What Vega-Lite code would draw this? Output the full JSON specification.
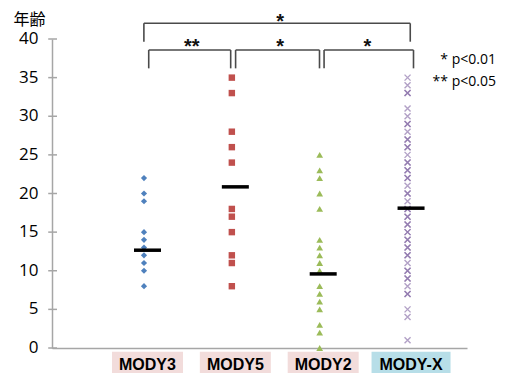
{
  "$schema": "https://vega.github.io/schema/vega-lite/v6.json",
  "width": 415,
  "height": 309,
  "autosize": {"type": "none"},
  "padding": {"left": 52, "top": 39, "right": 38, "bottom": 25},
  "background": "white",
  "config": {"view": {"stroke": null}},
  "datasets": {
    "pts": [
      {"group": "MODY3", "pos": 1, "age": 22}, {"group": "MODY3", "pos": 1, "age": 20}, {"group": "MODY3", "pos": 1, "age": 19},
      {"group": "MODY3", "pos": 1, "age": 15}, {"group": "MODY3", "pos": 1, "age": 14}, {"group": "MODY3", "pos": 1, "age": 13},
      {"group": "MODY3", "pos": 1, "age": 12}, {"group": "MODY3", "pos": 1, "age": 11}, {"group": "MODY3", "pos": 1, "age": 10},
      {"group": "MODY3", "pos": 1, "age": 8},
      {"group": "MODY5", "pos": 2, "age": 35}, {"group": "MODY5", "pos": 2, "age": 33}, {"group": "MODY5", "pos": 2, "age": 28},
      {"group": "MODY5", "pos": 2, "age": 26}, {"group": "MODY5", "pos": 2, "age": 24}, {"group": "MODY5", "pos": 2, "age": 18},
      {"group": "MODY5", "pos": 2, "age": 17}, {"group": "MODY5", "pos": 2, "age": 15}, {"group": "MODY5", "pos": 2, "age": 12},
      {"group": "MODY5", "pos": 2, "age": 11}, {"group": "MODY5", "pos": 2, "age": 8},
      {"group": "MODY2", "pos": 3, "age": 25}, {"group": "MODY2", "pos": 3, "age": 23}, {"group": "MODY2", "pos": 3, "age": 22},
      {"group": "MODY2", "pos": 3, "age": 20}, {"group": "MODY2", "pos": 3, "age": 18}, {"group": "MODY2", "pos": 3, "age": 14},
      {"group": "MODY2", "pos": 3, "age": 13}, {"group": "MODY2", "pos": 3, "age": 12}, {"group": "MODY2", "pos": 3, "age": 11},
      {"group": "MODY2", "pos": 3, "age": 10}, {"group": "MODY2", "pos": 3, "age": 8}, {"group": "MODY2", "pos": 3, "age": 7},
      {"group": "MODY2", "pos": 3, "age": 6}, {"group": "MODY2", "pos": 3, "age": 5}, {"group": "MODY2", "pos": 3, "age": 3},
      {"group": "MODY2", "pos": 3, "age": 2}, {"group": "MODY2", "pos": 3, "age": 0},
      {"group": "MODY-X", "pos": 4, "age": 35}, {"group": "MODY-X", "pos": 4, "age": 34},
      {"group": "MODY-X", "pos": 4, "age": 33}, {"group": "MODY-X", "pos": 4, "age": 33},
      {"group": "MODY-X", "pos": 4, "age": 31}, {"group": "MODY-X", "pos": 4, "age": 30},
      {"group": "MODY-X", "pos": 4, "age": 29}, {"group": "MODY-X", "pos": 4, "age": 29},
      {"group": "MODY-X", "pos": 4, "age": 28},
      {"group": "MODY-X", "pos": 4, "age": 27}, {"group": "MODY-X", "pos": 4, "age": 27},
      {"group": "MODY-X", "pos": 4, "age": 26}, {"group": "MODY-X", "pos": 4, "age": 26},
      {"group": "MODY-X", "pos": 4, "age": 25},
      {"group": "MODY-X", "pos": 4, "age": 24}, {"group": "MODY-X", "pos": 4, "age": 24},
      {"group": "MODY-X", "pos": 4, "age": 23}, {"group": "MODY-X", "pos": 4, "age": 23},
      {"group": "MODY-X", "pos": 4, "age": 22}, {"group": "MODY-X", "pos": 4, "age": 22},
      {"group": "MODY-X", "pos": 4, "age": 21},
      {"group": "MODY-X", "pos": 4, "age": 20}, {"group": "MODY-X", "pos": 4, "age": 20},
      {"group": "MODY-X", "pos": 4, "age": 19},
      {"group": "MODY-X", "pos": 4, "age": 18}, {"group": "MODY-X", "pos": 4, "age": 18},
      {"group": "MODY-X", "pos": 4, "age": 17}, {"group": "MODY-X", "pos": 4, "age": 17},
      {"group": "MODY-X", "pos": 4, "age": 16}, {"group": "MODY-X", "pos": 4, "age": 16},
      {"group": "MODY-X", "pos": 4, "age": 15}, {"group": "MODY-X", "pos": 4, "age": 15},
      {"group": "MODY-X", "pos": 4, "age": 14}, {"group": "MODY-X", "pos": 4, "age": 14},
      {"group": "MODY-X", "pos": 4, "age": 13}, {"group": "MODY-X", "pos": 4, "age": 13},
      {"group": "MODY-X", "pos": 4, "age": 12}, {"group": "MODY-X", "pos": 4, "age": 12},
      {"group": "MODY-X", "pos": 4, "age": 11},
      {"group": "MODY-X", "pos": 4, "age": 10}, {"group": "MODY-X", "pos": 4, "age": 10},
      {"group": "MODY-X", "pos": 4, "age": 9}, {"group": "MODY-X", "pos": 4, "age": 9},
      {"group": "MODY-X", "pos": 4, "age": 8},
      {"group": "MODY-X", "pos": 4, "age": 7}, {"group": "MODY-X", "pos": 4, "age": 7},
      {"group": "MODY-X", "pos": 4, "age": 5}, {"group": "MODY-X", "pos": 4, "age": 4},
      {"group": "MODY-X", "pos": 4, "age": 1}
    ],
    "means": [
      {"group": "MODY3", "pos": 1, "value": 12.66},
      {"group": "MODY5", "pos": 2, "value": 20.86},
      {"group": "MODY2", "pos": 3, "value": 9.59},
      {"group": "MODY-X", "pos": 4, "value": 18.1}
    ],
    "groups": [
      {"group": "MODY3", "pos": 1},
      {"group": "MODY5", "pos": 2},
      {"group": "MODY2", "pos": 3},
      {"group": "MODY-X", "pos": 4}
    ],
    "yticks": [{"v": 0}, {"v": 5}, {"v": 10}, {"v": 15}, {"v": 20}, {"v": 25}, {"v": 30}, {"v": 35}, {"v": 40}],
    "brackets": [
      {"from": 0.959, "to": 3.991, "top": 42.03, "bottom": 39.65, "label": "*", "mid": 2.511, "ly": 41.39},
      {"from": 1.014, "to": 1.947, "top": 38.57, "bottom": 36.2, "label": "**", "mid": 1.503, "ly": 38.24},
      {"from": 2.003, "to": 2.958, "top": 38.57, "bottom": 36.2, "label": "*", "mid": 2.511, "ly": 38.24},
      {"from": 3.01, "to": 4.028, "top": 38.57, "bottom": 36.2, "label": "*", "mid": 3.503, "ly": 38.24}
    ],
    "notes": [
      {"text": "* p<0.01", "x": 4.966, "y": 37.28},
      {"text": "** p<0.05", "x": 4.966, "y": 34.47}
    ]
  },
  "layer": [
    {
      "data": {"name": "groups"},
      "mark": {"type": "bar", "stroke": null},
      "encoding": {
        "x": {"field": "pos", "type": "quantitative", "scale": {"domain": [-0.03, 4.58], "nice": false, "zero": false}},
        "y": {"datum": -0.48, "type": "quantitative", "scale": {"domain": [0, 40], "nice": false}},
        "y2": {"datum": -3.8},
        "size": {"condition": {"test": "datum.group === 'MODY-X'", "value": 79}, "value": 71},
        "color": {"condition": {"test": "datum.group === 'MODY-X'", "value": "#b7dee8"}, "value": "#f2dcdb"}
      }
    },
    {
      "data": {"name": "groups"},
      "mark": {"type": "text", "font": "Liberation Sans", "fontSize": 16, "fontWeight": "bold", "color": "#000000", "baseline": "alphabetic", "align": "center"},
      "encoding": {
        "x": {"field": "pos", "type": "quantitative", "scale": {"domain": [-0.03, 4.58], "nice": false, "zero": false}},
        "y": {"datum": -2.9, "type": "quantitative", "scale": {"domain": [0, 40], "nice": false}},
        "text": {"field": "group"}
      }
    },
    {
      "data": {"name": "yticks"},
      "mark": {"type": "rule", "color": "#a6a6a6", "strokeWidth": 1.5},
      "encoding": {
        "x": {"datum": -0.13, "type": "quantitative", "scale": {"domain": [-0.03, 4.58], "nice": false, "zero": false}},
        "x2": {"datum": -0.03},
        "y": {"field": "v", "type": "quantitative", "scale": {"domain": [0, 40], "nice": false}}
      }
    },
    {
      "data": {"name": "yticks"},
      "mark": {"type": "text", "font": "Open Sans", "fontSize": 17, "color": "#000000", "align": "right", "baseline": "middle"},
      "encoding": {
        "x": {"datum": -0.241, "type": "quantitative", "scale": {"domain": [-0.03, 4.58], "nice": false, "zero": false}},
        "y": {"field": "v", "type": "quantitative", "scale": {"domain": [0, 40], "nice": false}},
        "text": {"field": "v", "type": "quantitative"}
      }
    },
    {
      "data": {"name": "brackets"},
      "mark": {"type": "rule", "color": "#4a4a4a", "strokeWidth": 1.6},
      "encoding": {
        "x": {"field": "from", "type": "quantitative", "scale": {"domain": [-0.03, 4.58], "nice": false, "zero": false}},
        "x2": {"field": "to"},
        "y": {"field": "top", "type": "quantitative", "scale": {"domain": [0, 40], "nice": false}}
      }
    },
    {
      "data": {"name": "brackets"},
      "mark": {"type": "rule", "color": "#4a4a4a", "strokeWidth": 1.6},
      "encoding": {
        "x": {"field": "from", "type": "quantitative", "scale": {"domain": [-0.03, 4.58], "nice": false, "zero": false}},
        "y": {"field": "top", "type": "quantitative", "scale": {"domain": [0, 40], "nice": false}},
        "y2": {"field": "bottom"}
      }
    },
    {
      "data": {"name": "brackets"},
      "mark": {"type": "rule", "color": "#4a4a4a", "strokeWidth": 1.6},
      "encoding": {
        "x": {"field": "to", "type": "quantitative", "scale": {"domain": [-0.03, 4.58], "nice": false, "zero": false}},
        "y": {"field": "top", "type": "quantitative", "scale": {"domain": [0, 40], "nice": false}},
        "y2": {"field": "bottom"}
      }
    },
    {
      "data": {"name": "brackets"},
      "mark": {"type": "text", "font": "Liberation Sans", "fontSize": 20, "fontWeight": "bold", "color": "#111111", "baseline": "alphabetic", "align": "center"},
      "encoding": {
        "x": {"field": "mid", "type": "quantitative", "scale": {"domain": [-0.03, 4.58], "nice": false, "zero": false}},
        "y": {"field": "ly", "type": "quantitative", "scale": {"domain": [0, 40], "nice": false}},
        "text": {"field": "label"}
      }
    },
    {
      "data": {"name": "pts"},
      "transform": [{"filter": "datum.group !== 'MODY-X'"}],
      "mark": {"type": "point", "filled": true, "opacity": 1, "xOffset": -3.5},
      "encoding": {
        "x": {"field": "pos", "type": "quantitative", "scale": {"domain": [-0.03, 4.58], "nice": false, "zero": false},
          "axis": {"labels": false, "ticks": false, "grid": false, "title": null, "domainColor": "#a6a6a6", "domainWidth": 1.5}},
        "y": {"field": "age", "type": "quantitative", "scale": {"domain": [0, 40], "nice": false},
          "axis": {"labels": false, "ticks": false, "grid": false,
            "domainColor": "#a6a6a6", "domainWidth": 1.5,
            "title": "年齢", "titleAngle": 0, "titleAlign": "left", "titleBaseline": "middle", "titleX": -39, "titleY": -20,
            "titleFont": "Noto Sans CJK JP", "titleFontSize": 16, "titleFontWeight": "normal", "titleColor": "#000000"}},
        "shape": {"field": "group", "type": "nominal", "scale": {"domain": ["MODY3", "MODY5", "MODY2"], "range": ["diamond", "square", "triangle-up"]}, "legend": null},
        "color": {"field": "group", "type": "nominal", "scale": {"domain": ["MODY3", "MODY5", "MODY2"], "range": ["#4f81bd", "#c0504d", "#9bbb59"]}, "legend": null},
        "size": {"field": "group", "type": "ordinal", "scale": {"domain": ["MODY3", "MODY5", "MODY2"], "range": [38, 45, 48]}, "legend": null}
      }
    },
    {
      "data": {"name": "pts"},
      "transform": [{"filter": "datum.group === 'MODY-X'"}],
      "mark": {"type": "point", "shape": "M-1,-1L1,1M-1,1L1,-1", "filled": false, "stroke": "#8064a2", "strokeWidth": 1.4, "size": 36, "opacity": 0.6, "xOffset": -3.5},
      "encoding": {
        "x": {"field": "pos", "type": "quantitative", "scale": {"domain": [-0.03, 4.58], "nice": false, "zero": false}},
        "y": {"field": "age", "type": "quantitative", "scale": {"domain": [0, 40], "nice": false}}
      }
    },
    {
      "data": {"name": "means"},
      "mark": {"type": "tick", "orient": "horizontal", "size": 27, "thickness": 3.5, "color": "#000000", "opacity": 1},
      "encoding": {
        "x": {"field": "pos", "type": "quantitative", "scale": {"domain": [-0.03, 4.58], "nice": false, "zero": false}},
        "y": {"field": "value", "type": "quantitative", "scale": {"domain": [0, 40], "nice": false}}
      }
    },
    {
      "data": {"name": "notes"},
      "mark": {"type": "text", "font": "Open Sans", "fontSize": 14, "color": "#000000", "align": "right", "baseline": "middle"},
      "encoding": {
        "x": {"field": "x", "type": "quantitative", "scale": {"domain": [-0.03, 4.58], "nice": false, "zero": false}},
        "y": {"field": "y", "type": "quantitative", "scale": {"domain": [0, 40], "nice": false}},
        "text": {"field": "text"}
      }
    }
  ]
}
